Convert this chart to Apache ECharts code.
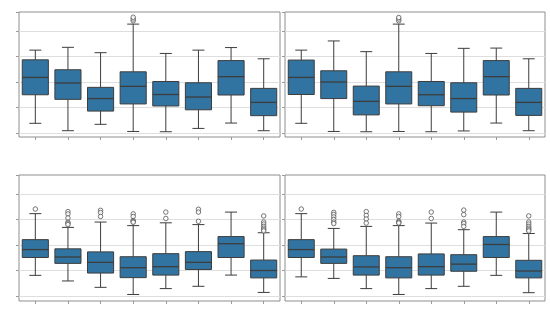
<!DOCTYPE html>
<html>
<head>
<meta charset="utf-8">
<script src="https://cdn.jsdelivr.net/npm/echarts@6/dist/echarts.min.js"></script>
<style>
html,body{margin:0;padding:0;background:#fff;}
#chart{width:550px;height:332px;}
</style>
</head>
<body>
<div id="chart"></div>
<script>
// ---- data (whiskerLow, Q1, median, Q3, whiskerHigh) ----
const categories = ['1', '2', '3', '4', '5', '6', '7', '8'];
const yTickInterval = 1;
const yMin = 0;

const boxesTopLeft = [
  [0.38, 1.50, 2.18, 2.87, 3.25],
  [0.09, 1.32, 1.96, 2.48, 3.36],
  [0.34, 0.86, 1.35, 1.79, 3.15],
  [0.06, 1.14, 1.83, 2.40, 4.27],
  [0.05, 1.06, 1.51, 2.02, 3.12],
  [0.18, 0.91, 1.41, 1.97, 3.25],
  [0.39, 1.49, 2.21, 2.84, 3.35],
  [0.09, 0.68, 1.20, 1.75, 2.91]
];
const outliersTopLeft = [[], [], [], [4.40, 4.47, 4.54], [], [], [], []];

const boxesTopRight = [
  [0.38, 1.51, 2.18, 2.86, 3.25],
  [0.06, 1.35, 2.00, 2.44, 3.61],
  [0.05, 0.71, 1.24, 1.84, 3.19],
  [0.06, 1.14, 1.83, 2.40, 4.27],
  [0.05, 1.07, 1.50, 2.02, 3.12],
  [0.08, 0.82, 1.35, 1.97, 3.32],
  [0.39, 1.49, 2.21, 2.84, 3.33],
  [0.09, 0.69, 1.20, 1.75, 2.91]
];
const outliersTopRight = [[], [], [], [4.40, 4.47, 4.53], [], [], [], []];

const boxesBottomLeft = [
  [0.81, 1.51, 1.82, 2.21, 3.23],
  [0.59, 1.28, 1.53, 1.85, 2.69],
  [0.34, 0.90, 1.32, 1.73, 2.90],
  [0.06, 0.72, 1.11, 1.54, 2.76],
  [0.29, 0.82, 1.15, 1.66, 2.87],
  [0.38, 1.04, 1.32, 1.74, 2.80],
  [0.82, 1.51, 2.05, 2.33, 3.29],
  [0.14, 0.71, 1.00, 1.41, 2.48]
];
const outliersBottomLeft = [
  [3.41],
  [3.31, 3.22, 3.06, 2.89, 2.85, 2.80],
  [3.36, 3.27, 3.12],
  [3.22, 3.12, 2.96, 2.92, 2.89],
  [3.29, 3.04],
  [3.40, 3.29, 2.93],
  [],
  [3.14, 2.90, 2.82, 2.73, 2.66, 2.60, 2.55]
];

const boxesBottomRight = [
  [0.75, 1.51, 1.82, 2.21, 3.23],
  [0.69, 1.28, 1.53, 1.84, 2.65],
  [0.29, 0.82, 1.14, 1.58, 2.73],
  [0.06, 0.71, 1.11, 1.54, 2.76],
  [0.29, 0.82, 1.15, 1.65, 2.86],
  [0.38, 0.97, 1.25, 1.62, 2.60],
  [0.81, 1.51, 2.02, 2.33, 3.29],
  [0.13, 0.71, 0.98, 1.40, 2.45]
];
const outliersBottomRight = [
  [3.41],
  [3.28, 3.20, 3.10, 3.00, 2.90, 2.84],
  [3.31, 3.16, 3.02, 2.86],
  [3.22, 3.12, 2.93, 2.89, 2.86],
  [3.29, 3.04],
  [3.37, 3.19, 2.90, 2.84, 2.73],
  [],
  [3.14, 2.90, 2.82, 2.73, 2.66, 2.60, 2.55]
];

const panelsData = [
  {boxes: boxesTopLeft, outliers: outliersTopLeft},
  {boxes: boxesTopRight, outliers: outliersTopRight},
  {boxes: boxesBottomLeft, outliers: outliersBottomLeft},
  {boxes: boxesBottomRight, outliers: outliersBottomRight}
];

// ---- layout & style ----
const layout = [
  {left: 19, top: 12, width: 261, frameH: 125},
  {left: 285, top: 12, width: 260, frameH: 125},
  {left: 19, top: 175, width: 261, frameH: 126},
  {left: 285, top: 175, width: 260, frameH: 126}
];
const dataH = 121;
const pxPerUnit = 25.5;
const yMax = dataH / pxPerUnit;

const BOX_FILL = '#3274a1';
const LINE = '#3d3d3d';
const FRAME = '#8e8e8e';
const GRIDLINE = '#dedede';
const TICK = '#9a9a9a';

function renderBox(params, api) {
  const x = api.value(0);
  const lo = api.coord([x, api.value(1)]);
  const q1 = api.coord([x, api.value(2)]);
  const md = api.coord([x, api.value(3)]);
  const q3 = api.coord([x, api.value(4)]);
  const hi = api.coord([x, api.value(5)]);
  const bw = api.size([1, 0])[0] * 0.8;
  const cw = bw * 0.46;
  const cx = lo[0];
  const st = {stroke: LINE, lineWidth: 1, fill: null};
  return {
    type: 'group',
    children: [
      {type: 'line', shape: {x1: cx, y1: hi[1], x2: cx, y2: q3[1]}, style: st},
      {type: 'line', shape: {x1: cx, y1: q1[1], x2: cx, y2: lo[1]}, style: st},
      {type: 'line', shape: {x1: cx - cw / 2, y1: hi[1], x2: cx + cw / 2, y2: hi[1]}, style: st},
      {type: 'line', shape: {x1: cx - cw / 2, y1: lo[1], x2: cx + cw / 2, y2: lo[1]}, style: st},
      {type: 'rect', shape: {x: cx - bw / 2, y: q3[1], width: bw, height: q1[1] - q3[1]},
        style: {fill: BOX_FILL, stroke: LINE, lineWidth: 1}},
      {type: 'line', shape: {x1: cx - bw / 2, y1: md[1], x2: cx + bw / 2, y2: md[1]},
        style: {stroke: LINE, lineWidth: 1.3}}
    ]
  };
}

const grid = [], xAxis = [], yAxis = [], series = [];
layout.forEach((L, p) => {
  // frame grid
  grid.push({left: L.left, top: L.top, width: L.width, height: L.frameH,
    show: true, borderColor: FRAME, borderWidth: 1, backgroundColor: 'transparent'});
  // data grid
  grid.push({left: L.left, top: L.top, width: L.width, height: dataH});
  const fg = 2 * p, dg = 2 * p + 1;
  xAxis.push({type: 'category', data: categories, gridIndex: fg,
    axisLine: {show: false}, axisLabel: {show: false}, splitLine: {show: false},
    axisTick: {show: true, alignWithLabel: true, length: 3, lineStyle: {color: TICK}}});
  yAxis.push({type: 'value', gridIndex: fg, min: 0, max: 1, show: false});
  xAxis.push({type: 'category', data: categories, gridIndex: dg, show: false});
  yAxis.push({type: 'value', gridIndex: dg, min: yMin, max: yMax, interval: yTickInterval,
    axisLine: {show: false}, axisLabel: {show: false},
    axisTick: {show: true, length: 3, lineStyle: {color: TICK}},
    splitLine: {show: true, showMaxLine: false, lineStyle: {color: GRIDLINE, width: 1}}});
  const pd = panelsData[p];
  series.push({type: 'custom', xAxisIndex: dg, yAxisIndex: dg,
    renderItem: renderBox, encode: {x: 0, y: [1, 2, 3, 4, 5]},
    data: pd.boxes.map((b, i) => [i].concat(b)), z: 3});
  const pts = [];
  pd.outliers.forEach((arr, i) => arr.forEach(v => pts.push([i, v])));
  series.push({type: 'scatter', xAxisIndex: dg, yAxisIndex: dg, data: pts,
    symbol: 'circle', symbolSize: 4.5, z: 4,
    itemStyle: {color: '#ffffff', borderColor: '#555555', borderWidth: 1}});
});

const chart = echarts.init(document.getElementById('chart'), null, {renderer: 'canvas'});
chart.setOption({animation: false, grid, xAxis, yAxis, series});
</script>
</body>
</html>
